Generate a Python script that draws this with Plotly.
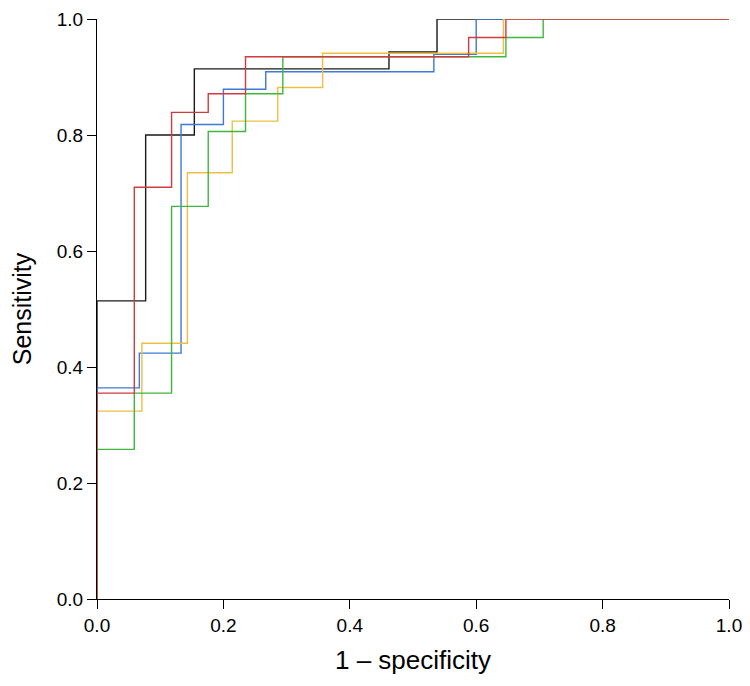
import plotly.graph_objects as go

# ROC step corner points (1 - specificity, sensitivity)
black_fpr = [0, 0, 0.077, 0.154, 0.462, 0.538, 1.0]
black_tpr = [0, 0.514, 0.800, 0.914, 0.943, 1.0, 1.0]

blue_fpr = [0, 0, 0.067, 0.133, 0.200, 0.267, 0.533, 0.600, 1.0]
blue_tpr = [0, 0.364, 0.424, 0.818, 0.879, 0.909, 0.939, 1.0, 1.0]

yellow_fpr = [0, 0, 0.071, 0.143, 0.214, 0.286, 0.357, 0.643, 1.0]
yellow_tpr = [0, 0.324, 0.441, 0.735, 0.824, 0.882, 0.941, 1.0, 1.0]

green_fpr = [0, 0, 0.059, 0.118, 0.176, 0.235, 0.294, 0.647, 0.706, 1.0]
green_tpr = [0, 0.258, 0.355, 0.677, 0.806, 0.871, 0.935, 0.968, 1.0, 1.0]

red_fpr = [0, 0, 0.059, 0.118, 0.176, 0.235, 0.588, 0.647, 1.0]
red_tpr = [0, 0.355, 0.710, 0.839, 0.871, 0.935, 0.968, 1.0, 1.0]

tick_vals = [0.0, 0.2, 0.4, 0.6, 0.8, 1.0]
tick_text = ["0.0", "0.2", "0.4", "0.6", "0.8", "1.0"]

series = [
    (black_fpr, black_tpr, "#1a1a1a"),
    (blue_fpr, blue_tpr, "#3f7ad6"),
    (yellow_fpr, yellow_tpr, "#ecbf45"),
    (green_fpr, green_tpr, "#3db83d"),
    (red_fpr, red_tpr, "#d43a3d"),
]

fig = go.Figure()
for xs, ys, col in series:
    fig.add_trace(go.Scatter(x=xs, y=ys, mode="lines", line=dict(color=col, width=1.4, shape="hv"),
                             showlegend=False, hoverinfo="skip", cliponaxis=False))

font = "Liberation Sans, Arial, Helvetica, sans-serif"
axis_common = dict(
    range=[0, 1], tickvals=tick_vals, ticktext=tick_text, automargin=False,
    ticklabeloverflow="allow",
    showgrid=False, zeroline=False, showline=True, linecolor="black", linewidth=1,
    ticks="outside", ticklen=9, tickwidth=1, tickcolor="black",
    tickfont=dict(family=font, size=19, color="black"),
)

fig.update_layout(
    width=734, height=670,
    margin=dict(l=89, r=13, t=11, b=79),
    plot_bgcolor="white", paper_bgcolor="white",
    xaxis=dict(**axis_common, title=dict(text="1 – specificity", font=dict(family=font, size=26, color="black"), standoff=16)),
    yaxis=dict(**axis_common, title=dict(text="Sensitivity", font=dict(family=font, size=25, color="black"), standoff=18)),
)

fig.write_html("out.html")
